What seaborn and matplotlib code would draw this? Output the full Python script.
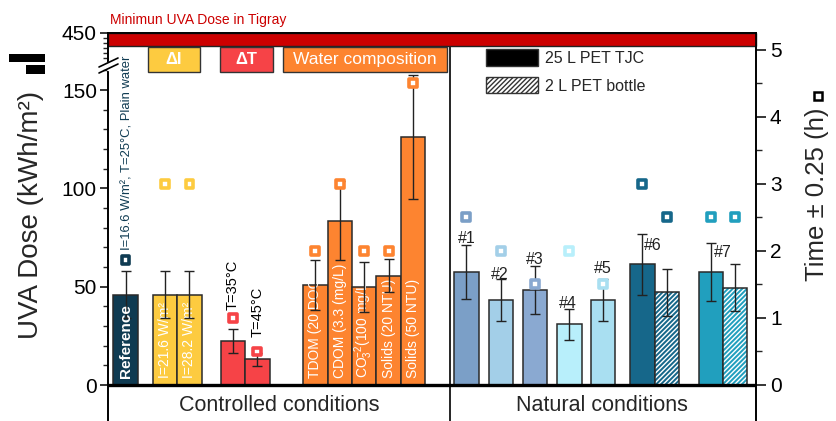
import numpy as np
import pandas as pd
import matplotlib
matplotlib.use("Agg")
import matplotlib.pyplot as plt
import seaborn as sns
from matplotlib.patches import Rectangle, Patch
from matplotlib.lines import Line2D
from matplotlib.ticker import FixedLocator

# ---------------- data ----------------
labels = ["Reference", "I=21.6", "I=28.2", "T=35", "T=45", "TDOM", "CDOM", "CO3",
          "Solids20", "Solids50", "#1", "#2", "#3", "#4", "#5", "#6", "#6b", "#7", "#7b"]
positions = [0.72, 2.34, 3.34, 5.12, 6.12, 8.5, 9.5, 10.5, 11.5, 12.5,
             14.69, 16.1, 17.5, 18.91, 20.3, 21.9, 22.9, 24.71, 25.71]
dose = [46, 46, 46, 22.4, 13.2, 50.8, 83.5, 50, 55.6, 126,
        57.3, 43.2, 48.3, 30.8, 43.2, 61.4, 47.1, 57.3, 49.5]
dose_err = [12, 12, 12, 6, 3.3, 12.7, 20, 12.7, 8.5, 31.5,
            13.7, 10.8, 12, 7.8, 10.8, 15.4, 12, 14.7, 12]
time_h = [1.87, 3, 3, 1, 0.5, 2, 3, 2, 2, 4.5,
          2.5, 2, 1.5, 2, 1.5, 3, 2.5, 2.5, 2.5]
bar_colors = ["#0f3b52", "#fdcb40", "#fdcb40", "#f64347", "#f64347",
              "#fd8430", "#fd8430", "#fd8430", "#fd8430", "#fd8430",
              "#7b9fc7", "#a3cfe8", "#8aa9d1", "#b8effb", "#a9dff1",
              "#16678a", "#16678a", "#219fbe", "#219fbe"]
bottle_2L = ["#6b", "#7b"]
inner_texts = {"I=21.6": "I=21.6 W/m²", "I=28.2": "I=28.2 W/m²",
               "TDOM": "TDOM (20 DOC)", "CDOM": "CDOM (3.3 (mg/L)",
               "CO3": "CO$_3^{-2}$(100 mg/L)", "Solids20": "Solids (20 NTU)",
               "Solids50": "Solids (50 NTU)"}
site_labels = ["#1", "#2", "#3", "#4", "#5", "#6", "#7"]
site_label_x = [14.69, 16.05, 17.5, 18.85, 20.3, 22.35, 25.2]
site_label_y = [74.3, 56.4, 64.0, 41.7, 59.5, 70.7, 67.6]
group_names = ["Controlled conditions", "Natural conditions"]
right_ticks = [0, 1, 2, 3, 4, 5]

# ---------------- style ----------------
sns.set_theme(style="white")
plt.rcParams["font.family"] = ["Liberation Sans", "DejaVu Sans"]
plt.rcParams["mathtext.fontset"] = "custom"
plt.rcParams["mathtext.rm"] = "Liberation Sans"
plt.rcParams["mathtext.it"] = "Liberation Sans"
plt.rcParams["mathtext.bf"] = "Liberation Sans:bold"
plt.rcParams["hatch.linewidth"] = 1.0

W, H = 836, 421
fig = plt.figure(figsize=(W / 100, H / 100), dpi=100)
ax = fig.add_axes([108 / W, 0, (756 - 108) / W, 1 - 33 / H])

YMIN, YMAX = -18.3, 179
XMAX = 26.56

df = pd.DataFrame({"pos": positions, "dose": dose, "label": labels})
pal = dict(zip(labels, bar_colors))
sns.barplot(data=df, x="pos", y="dose", hue="label", palette=pal, native_scale=True,
            width=1.0, edgecolor="#2a2a2a", linewidth=1.1, errorbar=None,
            legend=False, saturation=1, ax=ax, zorder=2)

for p in ax.patches:
    cx = p.get_x() + p.get_width() / 2
    i = int(np.argmin([abs(cx - q) for q in positions]))
    if labels[i] in bottle_2L:
        p.set_hatch("///////")
        if hasattr(p, "set_hatchcolor"):
            p.set_hatchcolor("white")
        else:
            p._hatch_color = (1, 1, 1, 1)

ax.errorbar(positions, dose, yerr=dose_err, fmt="none", ecolor="#222222",
            elinewidth=1.0, capsize=3.5, capthick=1.0, zorder=3)

ax.set_xlim(0, XMAX)
ax.set_ylim(YMIN, YMAX)
ax.set_xlabel("")
ax.set_ylabel("")
ax.set_xticks([])
ax.spines["bottom"].set_visible(False)
for s in ["left", "top", "right"]:
    ax.spines[s].set_color("black")
    ax.spines[s].set_linewidth(1.2)

ax.yaxis.set_major_locator(FixedLocator([0, 50, 100, 150, 179]))
ax.set_yticklabels(["0", "50", "100", "150", "450"])
minor = [v for v in range(10, 170, 10) if v % 50 != 0] + [166.5, 169, 171.5, 174, 176.5]
ax.yaxis.set_minor_locator(FixedLocator(minor))
ax.tick_params(axis="y", which="major", direction="out", length=6, width=1.1,
               labelsize=15, left=True, pad=2, colors="black")
ax.tick_params(axis="y", which="minor", direction="out", length=3.5, width=1.0, left=True)

# zero line and divider
ax.axhline(0, color="black", lw=2.4, zorder=4)
ax.plot([14.02, 14.02], [YMIN, 172.3], color="black", lw=1.2, zorder=4, clip_on=False)

# red band
ax.add_patch(Rectangle((0, 172.3), 1, YMAX - 172.3, transform=ax.get_yaxis_transform(),
                       facecolor="#cc0000", edgecolor="#222222", lw=1.0, zorder=5, clip_on=False))

# category boxes
boxes = [(1.64, 3.77, "#fdcb40", "ΔI", 12, "bold"),
         (4.59, 6.76, "#f64347", "ΔT", 12, "bold"),
         (7.17, 13.89, "#fd8430", "Water composition", 12.5, "normal")]
for x0, x1, c, t, fs, fw in boxes:
    ax.add_patch(Rectangle((x0, 159.1), x1 - x0, 12.7, facecolor=c, edgecolor="#333333",
                           lw=1.0, zorder=5))
    ax.text((x0 + x1) / 2, 165.4, t, color="white", fontsize=fs, fontweight=fw,
            ha="center", va="center", zorder=6)

# in-bar texts
ax.text(0.72, 3.5, "Reference", rotation=90, color="white", fontsize=11, fontweight="bold",
        ha="center", va="bottom", zorder=4)
ax.text(0.78, 68.6, "I=16.6 W/m², T=25°C, Plain water", rotation=90, color="#0f3b52",
        fontsize=9.4, ha="center", va="bottom", zorder=4)
for k, t in inner_texts.items():
    x = positions[labels.index(k)]
    ax.text(x, 3.5, t, rotation=90, color="white", fontsize=10, ha="center", va="bottom",
            zorder=2.5)
ax.text(5.12, 38, "T=35°C", rotation=90, color="black", fontsize=10.5, ha="center", va="bottom", zorder=4)
ax.text(6.12, 24.4, "T=45°C", rotation=90, color="black", fontsize=10.5, ha="center", va="bottom", zorder=4)
for t, x, y in zip(site_labels, site_label_x, site_label_y):
    ax.text(x, y, t, color="#222222", fontsize=11.5, ha="center", va="center", zorder=4)

# group labels
ax.text(7.0, -10.5, group_names[0], fontsize=15.5, ha="center", va="center")
ax.text(20.25, -10.5, group_names[1], fontsize=15.5, ha="center", va="center")

# legend
handles = [Patch(facecolor="black", edgecolor="#333333", lw=1.0),
           Patch(facecolor="white", edgecolor="#333333", lw=1.0, hatch="///////")]
leg = ax.legend(handles, ["25 L PET TJC", "2 L PET bottle"], loc="upper left",
                bbox_to_anchor=(0.583, 0.958), frameon=False, fontsize=11.5,
                handlelength=3.3, handleheight=1.2, labelspacing=0.7,
                handletextpad=0.4, borderpad=0, borderaxespad=0)

# right axis (time)
ax2 = ax.twinx()
sns.scatterplot(x=positions, y=time_h, hue=labels, palette=pal, marker="s", s=32,
                linewidth=2.6, legend=False, ax=ax2, zorder=6)
coll = ax2.collections[0]
fc = coll.get_facecolors()
coll.set_edgecolors(fc)
coll.set_facecolors("white")
ax2.set_ylim(-0.537, 5.25)
ax2.yaxis.set_major_locator(FixedLocator(right_ticks))
ax2.yaxis.set_minor_locator(FixedLocator([0.5, 1.5, 2.5, 3.5, 4.5]))
ax2.tick_params(axis="y", which="major", direction="out", length=7, width=1.1,
                labelsize=15, right=True, pad=3, colors="black")
ax2.tick_params(axis="y", which="minor", direction="out", length=4, width=1.0, right=True)
ax2.set_xlim(0, XMAX)
ax2.spines["bottom"].set_visible(False)
for s in ["left", "top", "right"]:
    ax2.spines[s].set_color("black")
    ax2.spines[s].set_linewidth(1.2)
ax2.grid(False)
ax.grid(False)

# axis break marks on left spine
def fx(px):
    return px / W
def fy(py):
    return 1 - py / H
fig.add_artist(Line2D([fx(108), fx(108)], [fy(62.5), fy(68.5)], color="white", lw=2.5))
fig.add_artist(Line2D([fx(99), fx(118)], [fy(67), fy(58)], color="black", lw=1.2))
fig.add_artist(Line2D([fx(99), fx(118)], [fy(73), fy(64)], color="black", lw=1.2))

# figure-level texts
fig.text(fx(110), fy(20), "Minimun UVA Dose in Tigray", color="#cc0000", fontsize=10,
         ha="left", va="center")
fig.text(fx(31), fy(215), "UVA Dose (kWh/m²)", rotation=90, fontsize=20,
         ha="center", va="center")
fig.add_artist(Rectangle((fx(9), fy(62)), fx(36), 8 / H, transform=fig.transFigure,
                         facecolor="black", edgecolor="none"))
fig.add_artist(Rectangle((fx(26), fy(74)), fx(19), 9 / H, transform=fig.transFigure,
                         facecolor="black", edgecolor="none"))
fig.text(fx(817), fy(194), "Time ± 0.25 (h)", rotation=90, fontsize=18.5,
         ha="center", va="center")
fig.add_artist(Rectangle((fx(814), fy(100)), fx(8), 8 / H, transform=fig.transFigure,
                         facecolor="white", edgecolor="black", lw=1.8))

fig.savefig("out.png", dpi=100)
